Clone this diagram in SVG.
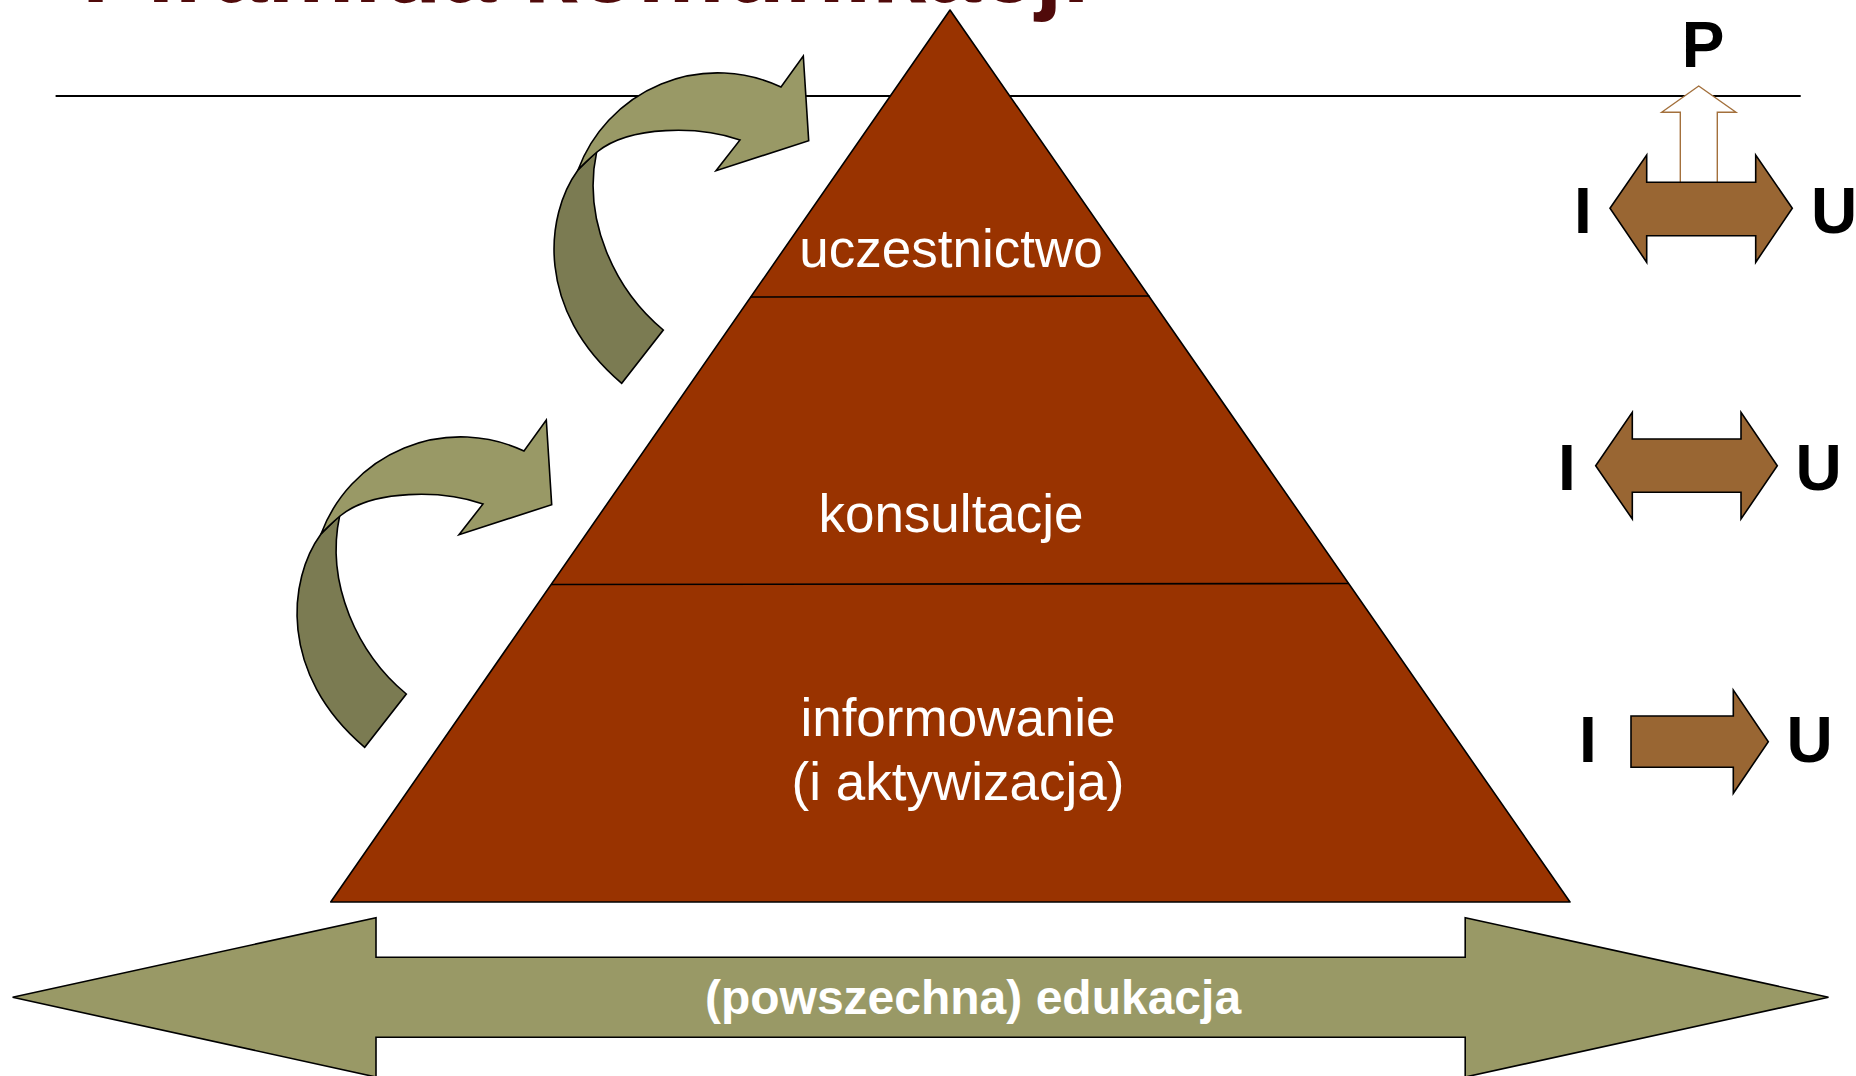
<svg xmlns="http://www.w3.org/2000/svg" xmlns:xlink="http://www.w3.org/1999/xlink" width="1856" height="1076" viewBox="0 0 1856 1076">
<style>
.tri{fill:#993300;stroke:#000;stroke-width:1.6;stroke-linejoin:round}
.div{stroke:#000;stroke-width:1.6;fill:none}
.lbl{font-family:"Liberation Sans",Arial,sans-serif;font-size:53px;fill:#fff;text-anchor:middle}
.iu{font-family:"Liberation Sans",Arial,sans-serif;font-size:64px;font-weight:bold;fill:#000;text-anchor:middle}
.brown{fill:#996633;stroke:#000;stroke-width:1.6;stroke-linejoin:miter}
.olive{fill:#999966;stroke:#000;stroke-width:1.6;stroke-linejoin:miter}
.olivedark{fill:#7b7b52;stroke:#000;stroke-width:1.6;stroke-linejoin:miter}
</style>
<defs>
<g id="curved">
<path class="olivedark" d="M578,170 C545,215 535,310 621.7,383.3 L663.3,330 C615,290 582,220 596.7,151.7 Z"/>
<path class="olive" d="M578,170 A149,149 0 0 1 781,87 L803.3,56 L808.7,140.7 L716,170.7 L740,140 C700,126 630,125 597,152 C590,158 583,164 578,170 Z"/>
</g>
</defs>
<rect width="1856" height="1076" fill="#fff"/>
<g id="title">
<text x="82" y="2" font-family="'Liberation Sans',Arial,sans-serif" font-size="98" font-weight="bold" fill="#500a0a">Piramida komunikacji</text>
</g>
<g id="rule">
<line x1="55.6" y1="96" x2="1800.7" y2="96" stroke="#000" stroke-width="2"/>
</g>
<g id="pyramid">
<polygon class="tri" points="950,10 1570,902 330.7,902"/>
<line class="div" x1="750.7" y1="297" x2="1149.5" y2="296"/>
<line class="div" x1="551.1" y1="584.5" x2="1348.6" y2="583.5"/>
</g>
<g id="node-uczestnictwo"><text class="lbl" x="951" y="267">uczestnictwo</text></g>
<g id="node-konsultacje"><text class="lbl" x="951" y="532">konsultacje</text></g>
<g id="node-informowanie"><text class="lbl" x="958" y="736">informowanie</text><text class="lbl" x="958" y="800">(i aktywizacja)</text></g>
<g id="connectors">
<use xlink:href="#curved" href="#curved"/>
<use xlink:href="#curved" href="#curved" transform="translate(-257,364)"/>
<g id="edukacja">
<polygon class="olive" points="12.6,997.3 376,917.7 376,957.3 1465.2,957.3 1465.2,917.7 1828.5,997.3 1465.2,1077 1465.2,1037.3 376,1037.3 376,1077"/>
<text x="973" y="1014" font-family="'Liberation Sans',Arial,sans-serif" font-size="48" font-weight="bold" fill="#fff" text-anchor="middle">(powszechna) edukacja</text>
</g>
</g>
<g id="iu-top">
<polygon points="1698.7,86 1736,112.3 1717.3,112.3 1717.3,182.7 1680.3,182.7 1680.3,112.3 1661.7,112.3" fill="#fff" stroke="#a3703c" stroke-width="1.4"/>
<polygon class="brown" points="1610,208.3 1646.7,155 1646.7,182.3 1755.7,182.3 1755.7,155 1792.3,208.3 1755.7,262.3 1755.7,235.7 1646.7,235.7 1646.7,262.3"/>
<text class="iu" x="1703" y="66.7">P</text>
<text class="iu" x="1583" y="233.3">I</text>
<text class="iu" x="1834" y="233.3">U</text>
</g>
<g id="iu-middle">
<polygon class="brown" points="1595.7,465.7 1632.3,412.3 1632.3,439 1741,439 1741,412.3 1777.3,465.7 1741,519 1741,492.3 1632.3,492.3 1632.3,519"/>
<text class="iu" x="1567" y="490">I</text>
<text class="iu" x="1818.7" y="490">U</text>
</g>
<g id="iu-bottom">
<polygon class="brown" points="1631,716 1733.3,716 1733.3,690 1768.3,741.7 1733.3,793.3 1733.3,767.3 1631,767.3"/>
<text class="iu" x="1588" y="761.7">I</text>
<text class="iu" x="1809.5" y="761.7">U</text>
</g>
</svg>
